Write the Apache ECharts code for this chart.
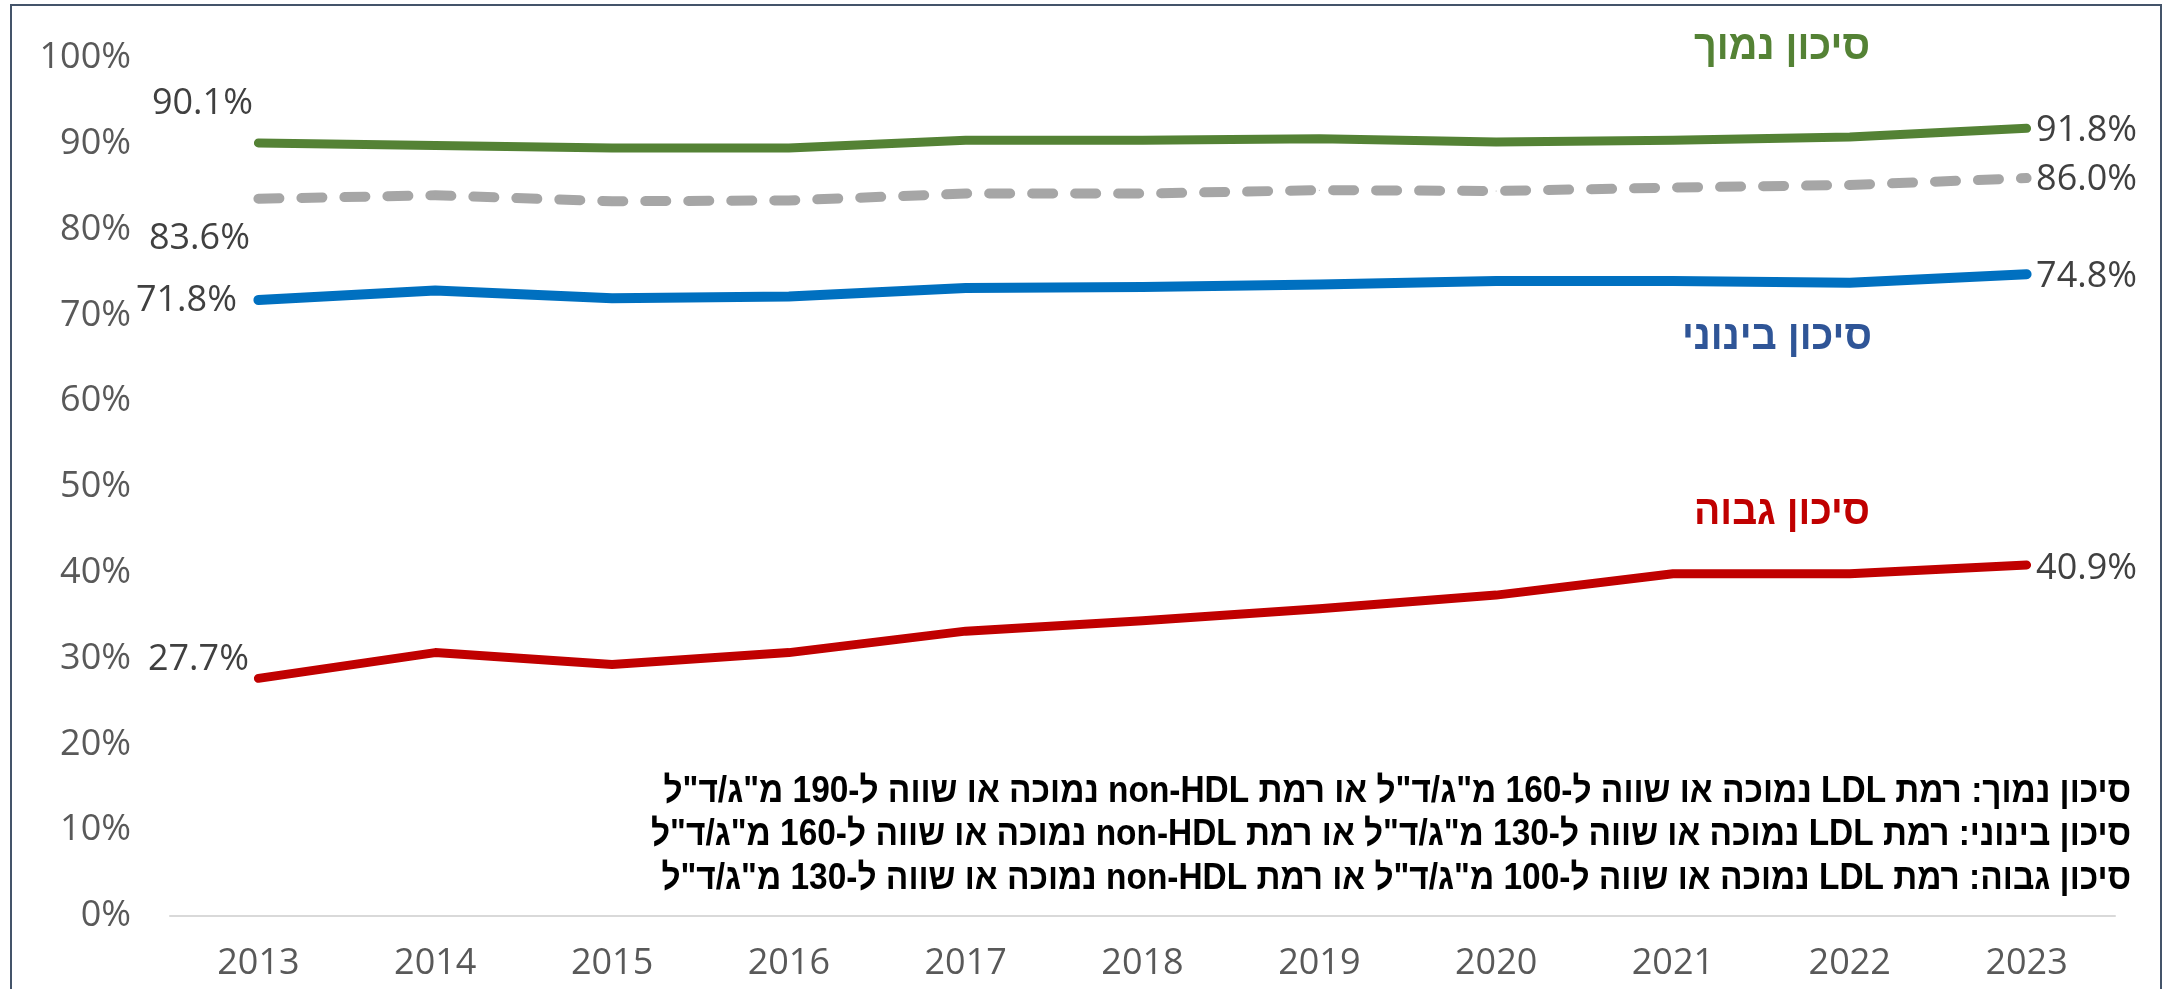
<!DOCTYPE html>
<html>
<head>
<meta charset="utf-8">
<script src="https://cdn.jsdelivr.net/npm/echarts@6/dist/echarts.min.js"></script>
<style>
  html, body { margin: 0; padding: 0; background: #ffffff; }
  #chart { width: 2170px; height: 989px; }
</style>
</head>
<body>
<div id="chart"></div>
<script>
// ---- data ----
const years = ['2013', '2014', '2015', '2016', '2017', '2018', '2019', '2020', '2021', '2022', '2023'];
const yTicks = [0, 10, 20, 30, 40, 50, 60, 70, 80, 90, 100];
const lowRisk = [90.1, 89.8, 89.5, 89.5, 90.4, 90.4, 90.6, 90.2, 90.4, 90.8, 91.8];
const overall = [83.6, 84.0, 83.3, 83.4, 84.2, 84.2, 84.6, 84.5, 84.9, 85.2, 86.0];
const mediumRisk = [71.8, 72.9, 72.0, 72.2, 73.2, 73.3, 73.6, 74.0, 74.0, 73.8, 74.8];
const highRisk = [27.7, 30.7, 29.3, 30.7, 33.2, 34.4, 35.8, 37.4, 39.9, 39.9, 40.9];

const labelLow = 'סיכון נמוך';
const labelMedium = 'סיכון בינוני';
const labelHigh = 'סיכון גבוה';
const noteLines = [
  'סיכון נמוך: רמת LDL נמוכה או שווה ל-160 מ"ג/ד"ל או רמת non-HDL נמוכה או שווה ל-190 מ"ג/ד"ל',
  'סיכון בינוני: רמת LDL נמוכה או שווה ל-130 מ"ג/ד"ל או רמת non-HDL נמוכה או שווה ל-160 מ"ג/ד"ל',
  'סיכון גבוה: רמת LDL נמוכה או שווה ל-100 מ"ג/ד"ל או רמת non-HDL נמוכה או שווה ל-130 מ"ג/ד"ל'
];

// ---- helpers ----
const RLE = '\u202B', PDF = '\u202C';
const rtl = s => RLE + s + PDF;
const NUM_FONT = '"Open Sans", "DejaVu Sans", sans-serif';
const HEB_FONT = '"Liberation Sans", "DejaVu Sans", sans-serif';

function buildData(values, firstLabel, lastLabel) {
  return values.map((v, i) => {
    const item = { value: v };
    if (i === 0) item.label = { show: true, position: 'left', distance: firstLabel.distance };
    else if (i === values.length - 1) item.label = { show: true, position: 'right', distance: lastLabel.distance };
    return item;
  });
}

const labelStyle = {
  show: false,
  color: '#404040',
  fontFamily: NUM_FONT,
  fontSize: 36,
  formatter: p => p.value.toFixed(1) + '%'
};

function lineSeries(name, values, color, width, dashed, firstLabel, lastLabel) {
  const last = values.length - 1;
  return {
    name: name,
    type: 'line',
    data: buildData(values, firstLabel, lastLabel),
    symbol: 'circle',
    symbolSize: 1,
    showSymbol: true,
    showAllSymbol: true,
    smooth: false,
    silent: true,
    itemStyle: { color: color },
    lineStyle: {
      color: color,
      width: width,
      type: dashed ? [21, 22] : 'solid',
      cap: 'round',
      join: 'round'
    },
    label: labelStyle,
    labelLayout: function (p) {
      if (p.dataIndex === 0) return { dy: firstLabel.dy, hideOverlap: false };
      if (p.dataIndex === last) return { dy: lastLabel.dy, hideOverlap: false };
      return { hideOverlap: false };
    },
    emphasis: { disabled: true }
  };
}

function measure(text, font) {
  const c = document.createElement('canvas').getContext('2d');
  c.font = font;
  return c.measureText(text).width;
}

const chart = echarts.init(document.getElementById('chart'), null, { renderer: 'canvas', width: 2170, height: 989 });

// note block: bold narrow-looking text, fitted to the reference width
const NOTE_SIZE = 37;
const noteFont = 'bold ' + NOTE_SIZE + 'px ' + HEB_FONT;
const noteWidthTarget = 1480;
const noteMaxW = Math.max.apply(null, noteLines.map(l => measure(rtl(l), noteFont)));
const noteScale = noteWidthTarget / noteMaxW;
const noteYs = [792, 835, 879];

const annoSize = 42;
const annoFont = 'bold ' + annoSize + 'px ' + HEB_FONT;
const annoTarget = 176;
function annoScale(t) { return annoTarget / measure(rtl(t), annoFont); }

const option = {
  animation: false,
  backgroundColor: '#ffffff',
  grid: { left: 170, right: 55, top: 58, bottom: 73 },
  xAxis: {
    type: 'category',
    data: years,
    boundaryGap: true,
    axisLine: { show: true, lineStyle: { color: '#D9D9D9', width: 2 } },
    axisTick: { show: false },
    axisLabel: { color: '#595959', fontFamily: NUM_FONT, fontSize: 36, margin: 30 },
    splitLine: { show: false }
  },
  yAxis: {
    type: 'value',
    min: yTicks[0],
    max: yTicks[yTicks.length - 1],
    interval: yTicks[1] - yTicks[0],
    axisLine: { show: false },
    axisTick: { show: false },
    splitLine: { show: false },
    axisLabel: { color: '#595959', fontFamily: NUM_FONT, fontSize: 36, margin: 39, formatter: '{value}%' }
  },
  series: [
    lineSeries(labelLow, lowRisk, '#548235', 9, false, { distance: 5, dy: -39 }, { distance: 9, dy: 2 }),
    lineSeries('כלל', overall, '#A6A6A6', 10, true, { distance: 8, dy: 40 }, { distance: 9, dy: 2 }),
    lineSeries(labelMedium, mediumRisk, '#0070C0', 10, false, { distance: 21, dy: 1 }, { distance: 9, dy: 3 }),
    lineSeries(labelHigh, highRisk, '#C00000', 9, false, { distance: 9, dy: -19 }, { distance: 9, dy: 4 })
  ],
  graphic: [
    {
      type: 'rect', silent: true, z: -10,
      shape: { x: 11, y: 5, width: 2150, height: 1200 },
      style: { fill: 'none', stroke: '#44546A', lineWidth: 2 }
    },
    {
      type: 'text', silent: true, x: 1870, y: 47, scaleX: annoScale(labelLow),
      style: { text: rtl(labelLow), font: annoFont, fill: '#548235', align: 'right', verticalAlign: 'middle' }
    },
    {
      type: 'text', silent: true, x: 1872, y: 337, scaleX: annoScale(labelMedium) * 1.08,
      style: { text: rtl(labelMedium), font: annoFont, fill: '#2F5597', align: 'right', verticalAlign: 'middle' }
    },
    {
      type: 'text', silent: true, x: 1870, y: 512, scaleX: annoScale(labelHigh),
      style: { text: rtl(labelHigh), font: annoFont, fill: '#C00000', align: 'right', verticalAlign: 'middle' }
    }
  ].concat(noteLines.map((l, i) => ({
    type: 'text', silent: true, x: 2131, y: noteYs[i], scaleX: noteScale,
    style: { text: rtl(l), font: noteFont, fill: '#000000', align: 'right', verticalAlign: 'middle' }
  })))
};

chart.setOption(option);
</script>
</body>
</html>
